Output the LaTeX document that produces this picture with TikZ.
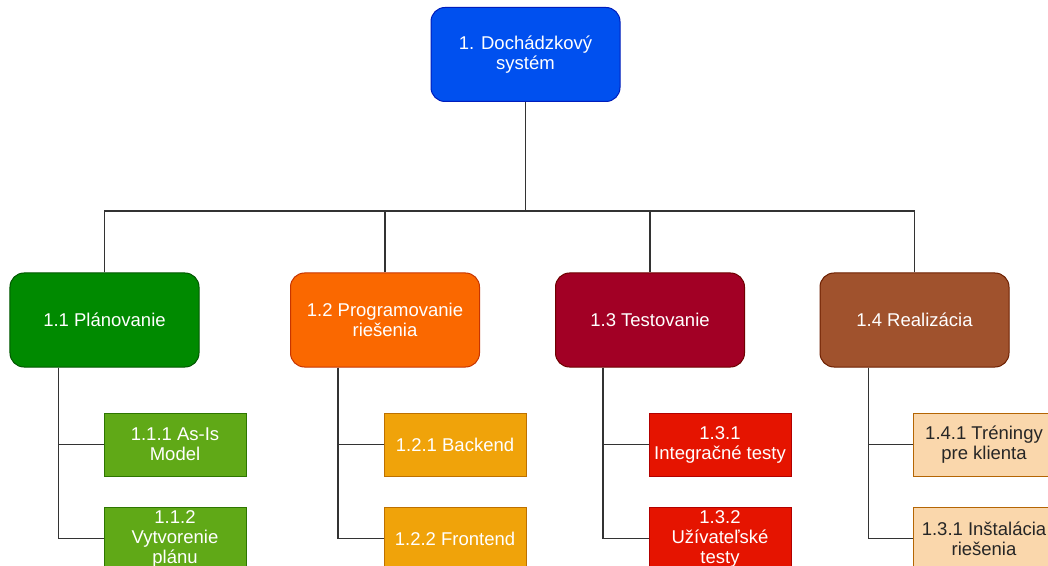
\documentclass[tikz,border=0pt]{standalone}
\usepackage{fontspec}
\setmainfont{Liberation Sans}
\definecolor{cBlue}{HTML}{0050EF}
\definecolor{cBlueD}{HTML}{001DBC}
\definecolor{cGreen}{HTML}{008A00}
\definecolor{cGreenD}{HTML}{005700}
\definecolor{cOrange}{HTML}{FA6800}
\definecolor{cOrangeD}{HTML}{C73500}
\definecolor{cCrimson}{HTML}{A20025}
\definecolor{cCrimsonD}{HTML}{6F0000}
\definecolor{cBrown}{HTML}{A0522D}
\definecolor{cBrownD}{HTML}{6D1F00}
\definecolor{cLGreen}{HTML}{60A917}
\definecolor{cLGreenD}{HTML}{2D7600}
\definecolor{cAmber}{HTML}{F0A30A}
\definecolor{cAmberD}{HTML}{BD7000}
\definecolor{cRed}{HTML}{E51400}
\definecolor{cRedD}{HTML}{B20000}
\definecolor{cPeach}{HTML}{FAD7AC}
\definecolor{cPeachD}{HTML}{B46504}
\definecolor{cLine}{HTML}{333333}
\begin{document}
\begin{tikzpicture}[x=1bp,y=-1bp,
  lbl/.style={inner sep=0pt, align=center, font=\fontsize{18.5bp}{20bp}\selectfont, text=white},
  topbox/.style={lbl, draw, line width=1bp, minimum width=189bp, minimum height=94bp, rounded corners=14bp},
  subbox/.style={lbl, draw, line width=1bp, minimum width=142bp, minimum height=63bp},
  conn/.style={draw=cLine, line width=1.5bp}]
\useasboundingbox[fill=white] (0,0) rectangle (1048,566);

\node[topbox, fill=cBlue, draw=cBlueD] (root) at (525.5,54.5) {1. Dochádzkový\\systém};

\node[topbox, fill=cGreen, draw=cGreenD] (p1) at (104.5,320) {1.1 Plánovanie};
\node[topbox, fill=cOrange, draw=cOrangeD] (p2) at (385,320) {1.2 Programovanie\\riešenia};
\node[topbox, fill=cCrimson, draw=cCrimsonD] (p3) at (650,320) {1.3 Testovanie};
\node[topbox, fill=cBrown, draw=cBrownD] (p4) at (914.5,320) {1.4 Realizácia};

\node[subbox, fill=cLGreen, draw=cLGreenD] (c11) at (175,444.5) {1.1.1 As-Is\\Model};
\node[subbox, fill=cLGreen, draw=cLGreenD] (c12) at (175,538.5) {1.1.2\\Vytvorenie\\plánu};
\node[subbox, fill=cAmber, draw=cAmberD] (c21) at (455,444.5) {1.2.1 Backend};
\node[subbox, fill=cAmber, draw=cAmberD] (c22) at (455,538.5) {1.2.2 Frontend};
\node[subbox, fill=cRed, draw=cRedD] (c31) at (720,444.5) {1.3.1\\Integračné testy};
\node[subbox, fill=cRed, draw=cRedD] (c32) at (720,538.5) {1.3.2\\Užívateľské\\testy};
\node[subbox, fill=cPeach, draw=cPeachD, text=black!85] (c41) at (984,444.5) {1.4.1 Tréningy\\pre klienta};
\node[subbox, fill=cPeach, draw=cPeachD, text=black!85] (c42) at (984,538.5) {1.3.1 Inštalácia\\riešenia};

\coordinate (bus) at (0,211);
\draw[conn] (root.south) -- (root.south |- bus);
\draw[conn] (p1.north) |- (p4.north |- bus) -- (p4.north);
\draw[conn] (p2.north) -- (p2.north |- bus);
\draw[conn] (p3.north) -- (p3.north |- bus);

\draw[conn] ([xshift=49bp]p1.south west) |- (c11.west);
\draw[conn] ([xshift=49bp]p1.south west) |- (c12.west);
\draw[conn] ([xshift=48bp]p2.south west) |- (c21.west);
\draw[conn] ([xshift=48bp]p2.south west) |- (c22.west);
\draw[conn] ([xshift=48bp]p3.south west) |- (c31.west);
\draw[conn] ([xshift=48bp]p3.south west) |- (c32.west);
\draw[conn] ([xshift=49bp]p4.south west) |- (c41.west);
\draw[conn] ([xshift=49bp]p4.south west) |- (c42.west);
\end{tikzpicture}
\end{document}
